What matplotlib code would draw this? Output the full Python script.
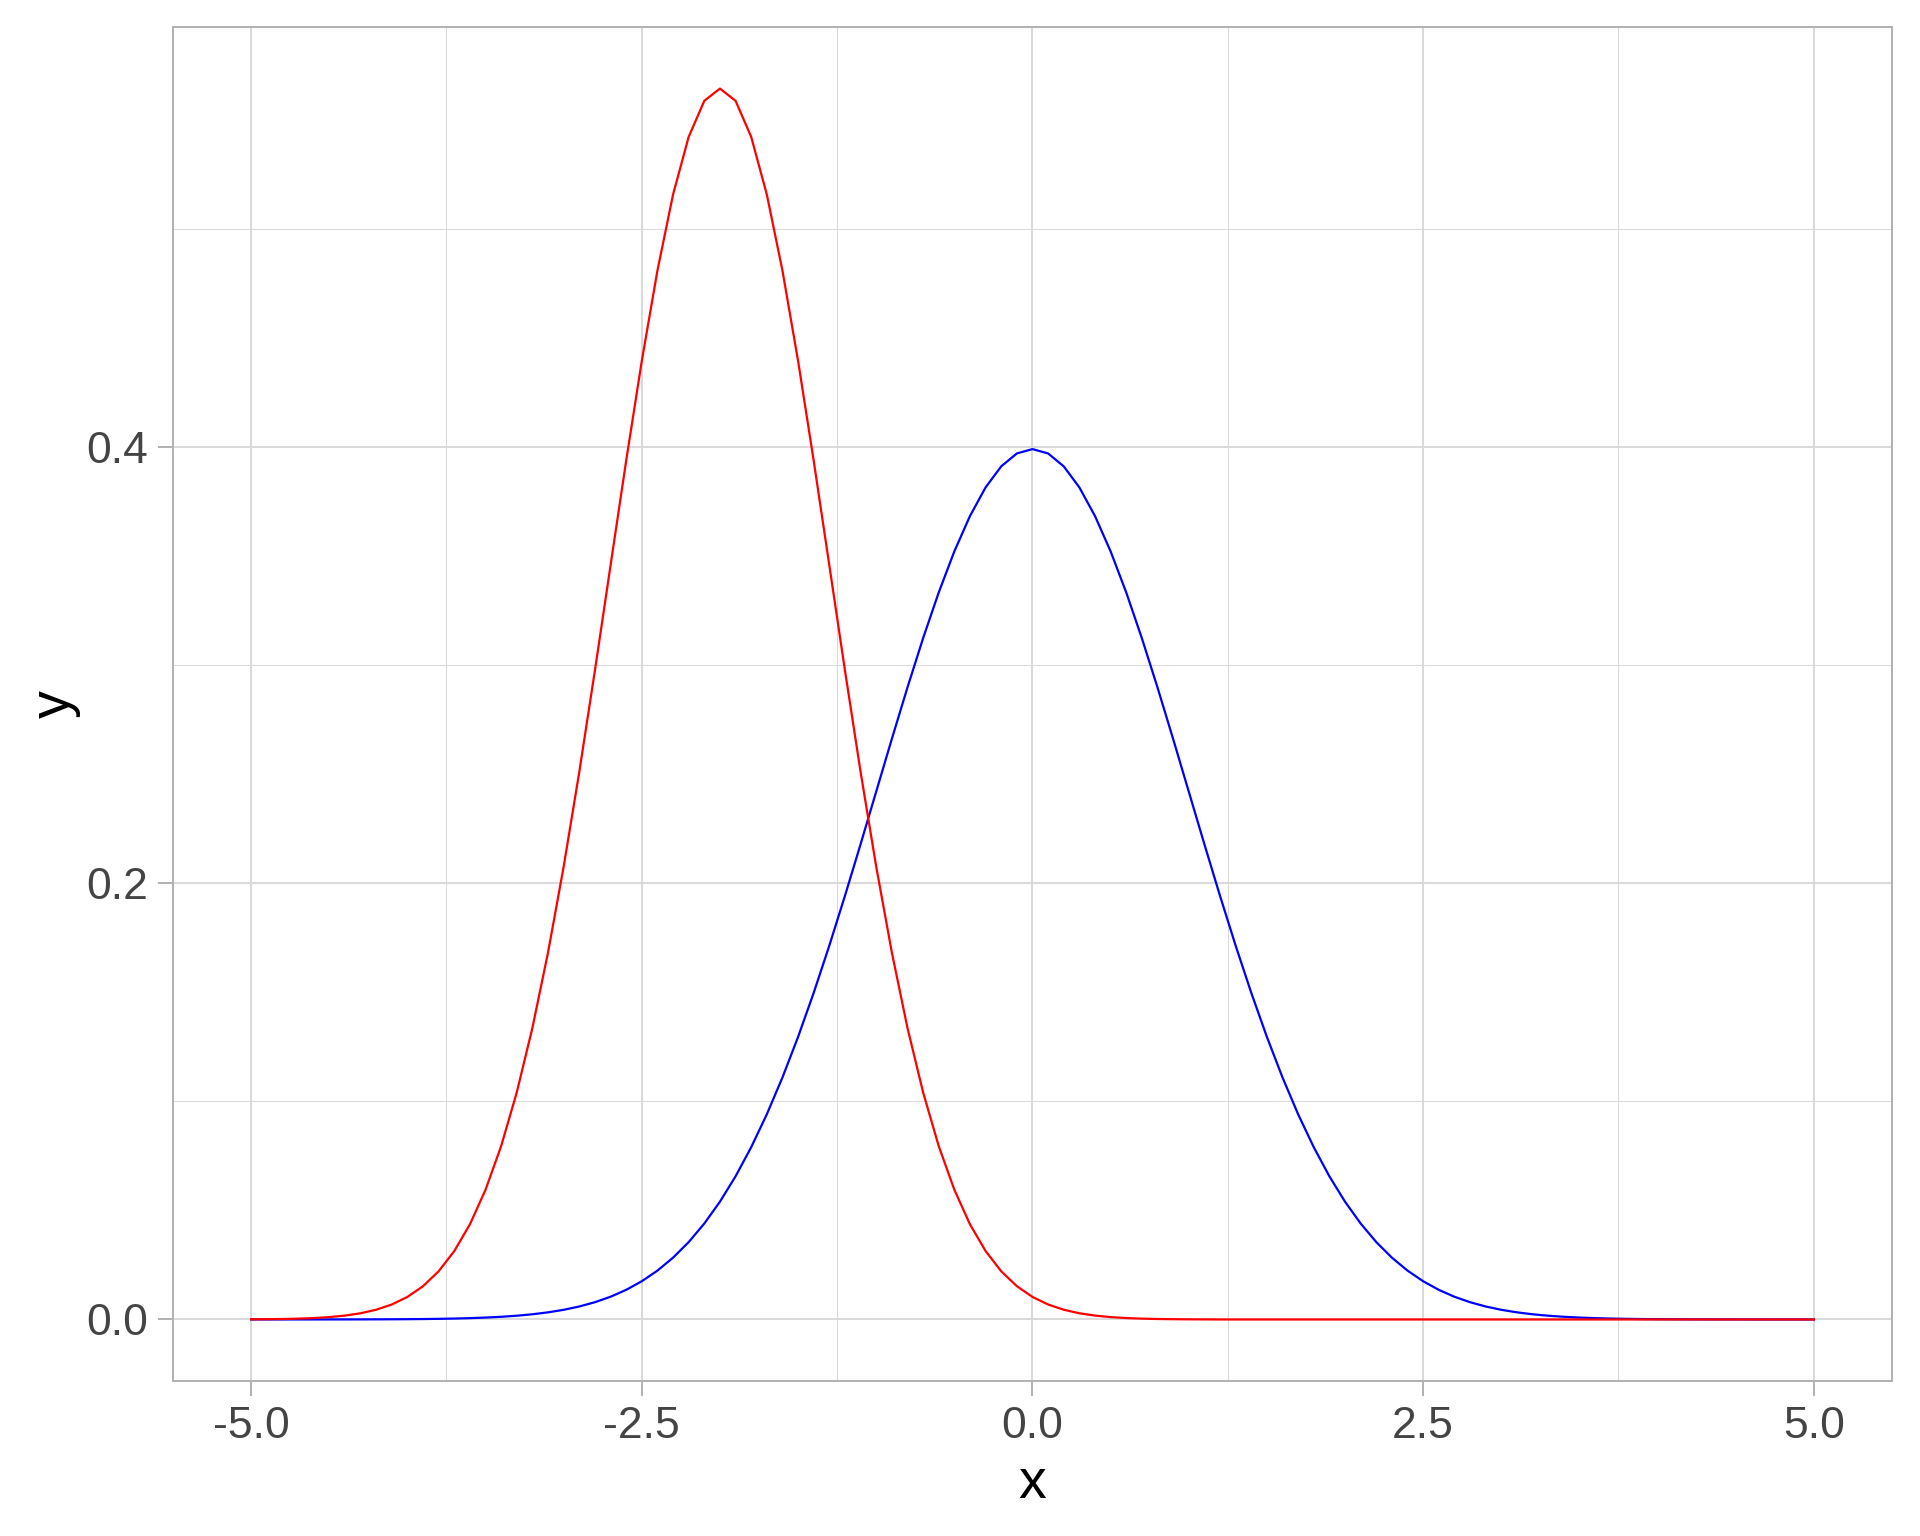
import numpy as np
import matplotlib
matplotlib.use("Agg")
import matplotlib.pyplot as plt
from matplotlib.ticker import FixedLocator

# sample grid, -5 to 5 in steps of 0.1
x = np.linspace(-5, 5, 101)

# blue curve, peak ~0.399 at x=0
y_blue = [
    0.00000, 0.00000, 0.00000, 0.00001, 0.00001, 0.00002, 0.00002, 0.00004, 0.00006, 0.00009,
    0.00013, 0.00020, 0.00029, 0.00042, 0.00061, 0.00087, 0.00123, 0.00172, 0.00238, 0.00327,
    0.00443, 0.00595, 0.00792, 0.01042, 0.01358, 0.01753, 0.02239, 0.02833, 0.03547, 0.04398,
    0.05399, 0.06562, 0.07895, 0.09405, 0.11092, 0.12952, 0.14973, 0.17137, 0.19419, 0.21785,
    0.24197, 0.26609, 0.28969, 0.31225, 0.33322, 0.35207, 0.36827, 0.38139, 0.39104, 0.39695,
    0.39894,
    0.39695, 0.39104, 0.38139, 0.36827, 0.35207, 0.33322, 0.31225, 0.28969, 0.26609, 0.24197,
    0.21785, 0.19419, 0.17137, 0.14973, 0.12952, 0.11092, 0.09405, 0.07895, 0.06562, 0.05399,
    0.04398, 0.03547, 0.02833, 0.02239, 0.01753, 0.01358, 0.01042, 0.00792, 0.00595, 0.00443,
    0.00327, 0.00238, 0.00172, 0.00123, 0.00087, 0.00061, 0.00042, 0.00029, 0.00020, 0.00013,
    0.00009, 0.00006, 0.00004, 0.00002, 0.00002, 0.00001, 0.00001, 0.00000, 0.00000, 0.00000,
]

# red curve, peak ~0.564 at x=-2
y_red = [
    0.00007, 0.00013, 0.00022, 0.00038, 0.00065, 0.00109, 0.00178, 0.00284, 0.00446, 0.00686,
    0.01033, 0.01526, 0.02209, 0.03136, 0.04361, 0.05947, 0.07947, 0.10411, 0.13367, 0.16824,
    0.20755, 0.25099, 0.29749, 0.34564, 0.39362, 0.43939, 0.48077, 0.51563, 0.54207, 0.55858,
    0.56419,
    0.55858, 0.54207, 0.51563, 0.48077, 0.43939, 0.39362, 0.34564, 0.29749, 0.25099, 0.20755,
    0.16824, 0.13367, 0.10411, 0.07947, 0.05947, 0.04361, 0.03136, 0.02209, 0.01526, 0.01033,
    0.00686, 0.00446, 0.00284, 0.00178, 0.00109, 0.00065, 0.00038, 0.00022, 0.00013, 0.00007,
    0.00004,
] + [0.0] * 39

x_ticks = [-5.0, -2.5, 0.0, 2.5, 5.0]
x_minor = [-3.75, -1.25, 1.25, 3.75]
y_ticks = [0.0, 0.2, 0.4]
y_minor = [0.1, 0.3, 0.5]

plt.rcParams['font.family'] = ['Liberation Sans', 'DejaVu Sans']

fig = plt.figure(figsize=(19.2, 15.36), dpi=100)
ax = fig.add_axes([0.0901, 0.1009, 0.8953, 0.8815])

ax.plot(x, y_blue, color='#0000FF', lw=1.6, zorder=3)
ax.plot(x, y_red, color='#FF0000', lw=1.6, zorder=4)

ymax = max(max(y_red), max(y_blue))
ax.set_xlim(-5.5, 5.5)
ax.set_ylim(-0.05 * ymax, 1.05 * ymax)

ax.xaxis.set_major_locator(FixedLocator(x_ticks))
ax.xaxis.set_minor_locator(FixedLocator(x_minor))
ax.yaxis.set_major_locator(FixedLocator(y_ticks))
ax.yaxis.set_minor_locator(FixedLocator(y_minor))
ax.set_xticklabels([f"{v:.1f}" for v in x_ticks])
ax.set_yticklabels([f"{v:.1f}" for v in y_ticks])

ax.grid(which='major', color='#DADADA', lw=1.45, zorder=0)
ax.grid(which='minor', color='#DADADA', lw=0.75, zorder=0)
ax.set_axisbelow(True)

for s in ax.spines.values():
    s.set_color('#B3B3B3')
    s.set_linewidth(1.45)

ax.tick_params(which='major', length=10.8, width=1.45, color='#B3B3B3',
               labelsize=32, labelcolor='#444444', pad=7)
ax.tick_params(which='minor', length=0)

ax.set_xlabel('x', fontsize=40, color='black', labelpad=8)
ax.set_ylabel('y', fontsize=40, color='black', labelpad=4)

fig.savefig('out.png', dpi=100, facecolor='white')
